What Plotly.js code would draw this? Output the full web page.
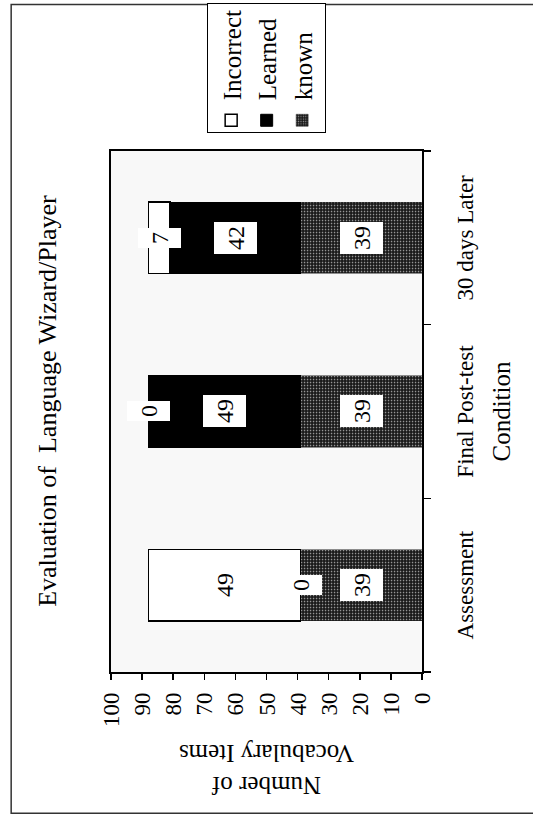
<!DOCTYPE html>
<html>
<head>
<meta charset="utf-8">
<script src="https://cdn.plot.ly/plotly-3.0.1.min.js"></script>
<style>
html,body{margin:0;padding:0;width:533px;height:821px;overflow:hidden;background:#fff;}
#wrap{position:absolute;left:0;top:0;width:821px;height:533px;transform-origin:0 0;}
</style>
</head>
<body>
<div id="wrap"></div>
<script>
// ---- data ----
const categories = ["Assessment", "Final Post-test", "30 days Later"];
const known = [39, 39, 39];
const learned = [0, 49, 42];
const incorrect = [49, 0, 7];
const seriesNames = ["known", "Learned", "Incorrect"];
const yTicks = [0, 10, 20, 30, 40, 50, 60, 70, 80, 90, 100];
const chartTitle = "Evaluation of\u00A0 Language Wizard/Player";
const xTitle = "Condition";
const yTitle = "Number of<br>Vocabulary Items";

const FONT = "'Liberation Serif', 'Times New Roman', serif";
const seriesValues = [known, learned, incorrect];

const traces = [
  {type: "bar", name: seriesNames[0], x: categories, y: known,
   marker: {color: "#2e2e2e", line: {color: "#222", width: 0.5},
            pattern: {shape: ".", fgcolor: "#959595", bgcolor: "#1a1a1a", size: 3, solidity: 0.25}},
   hoverinfo: "skip"},
  {type: "bar", name: seriesNames[1], x: categories, y: learned,
   marker: {color: "#000000", line: {color: "#000", width: 1}}, hoverinfo: "skip"},
  {type: "bar", name: seriesNames[2], x: categories, y: incorrect,
   marker: {color: "#ffffff", line: {color: "#000", width: 1.5}}, hoverinfo: "skip"}
];

// value labels (white boxes) at each segment centre, computed from the data
const annotations = [];
categories.forEach((c, i) => {
  let base = 0;
  seriesValues.forEach((arr) => {
    const v = arr[i];
    annotations.push({
      x: c, y: base + v / 2, xref: "x", yref: "y",
      text: String(v), showarrow: false,
      bgcolor: "#ffffff", borderpad: 4, borderwidth: 0,
      height: 35,
      font: {family: FONT, size: 24, color: "#000"}
    });
    base += v;
  });
});

const layout = {
  width: 821, height: 533,
  margin: {l: 149, r: 151, t: 111, b: 111, pad: 0, autoexpand: false},
  paper_bgcolor: "#ffffff",
  plot_bgcolor: "#f8f8f8",
  barmode: "stack",
  bargap: 0.59,
  showlegend: true,
  font: {family: FONT, color: "#000"},
  title: {text: chartTitle, font: {family: FONT, size: 26, color: "#000"},
          xref: "paper", x: 0.52, xanchor: "center",
          yref: "container", y: 0.912, yanchor: "middle"},
  xaxis: {type: "category", categoryorder: "array", categoryarray: categories,
          tickson: "boundaries", ticks: "outside", ticklen: 7, tickwidth: 1.5, tickcolor: "#000",
          showline: true, linecolor: "#000", linewidth: 2, mirror: true,
          showgrid: false, zeroline: false,
          tickfont: {family: FONT, size: 23, color: "#000"},
          ticklabelstandoff: 21,
          title: {text: xTitle, font: {family: FONT, size: 25, color: "#000"}, standoff: 16}},
  yaxis: {range: [0, 100], tickmode: "array", tickvals: yTicks, ticktext: yTicks.map(String),
          ticks: "outside", ticklen: 6, tickwidth: 1.5, tickcolor: "#000",
          showline: true, linecolor: "#000", linewidth: 2, mirror: true,
          showgrid: false, zeroline: false,
          tickfont: {family: FONT, size: 23, color: "#000"},
          ticklabelstandoff: 8,
          title: {text: yTitle, font: {family: FONT, size: 25, color: "#000"}, standoff: 10}},
  legend: {x: 1.034, y: 0.69, xanchor: "left", yanchor: "top",
           traceorder: "reversed", bordercolor: "#000", borderwidth: 1, bgcolor: "#fff",
           indentation: -8, tracegroupgap: 0,
           font: {family: FONT, size: 25, color: "#000"}, itemwidth: 30},
  annotations: annotations,
  shapes: [
    {type: "rect", xref: "paper", yref: "paper", x0: -0.271, x1: 1.281, y0: -0.38, y1: 1.321,
     line: {color: "#333", width: 1.5}, fillcolor: "rgba(0,0,0,0)", layer: "below"}
  ]
};

Plotly.newPlot("wrap", traces, layout, {staticPlot: true, displayModeBar: false}).then(() => {
  const w = document.getElementById("wrap");
  w.style.transform = "translate(0px, 821px) rotate(-90deg)";
});
</script>
</body>
</html>
